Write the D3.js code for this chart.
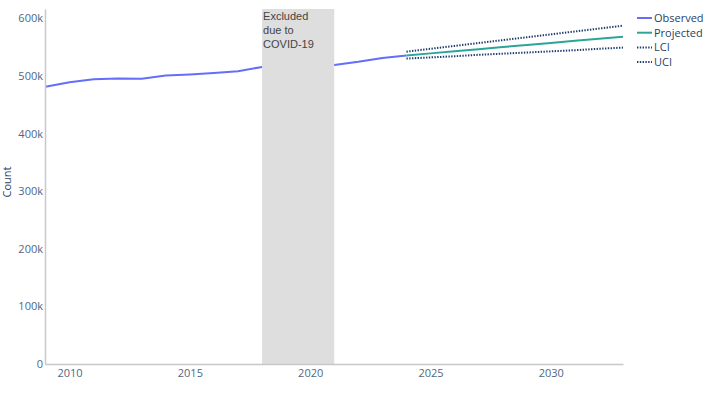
<!DOCTYPE html>
<html>
<head>
<meta charset="utf-8">
<script src="https://cdn.jsdelivr.net/npm/d3@7"></script>
<style>
  html, body { margin: 0; padding: 0; background: #fff; }
  svg { display: block; }
</style>
</head>
<body>
<svg id="chart" width="711" height="400"></svg>
<script>
// ---- Data ----
const observedYears  = [2009, 2010, 2011, 2012, 2013, 2014, 2015, 2016, 2017, 2018, 2021, 2022, 2023, 2024];
const observedValues = [481000, 489000, 494000, 495500, 495000, 500500, 502500, 505000, 508000, 515500, 519000, 524500, 531000, 535500];

const projYears  = [2024, 2025, 2026, 2027, 2028, 2029, 2030, 2031, 2032, 2033];
const projValues = [535500, 539000, 542500, 546000, 550000, 553500, 557000, 561000, 564500, 568000];
const lciValues  = [530000, 532000, 534000, 536500, 538500, 540500, 542500, 544500, 547000, 549000];
const uciValues  = [542000, 547000, 552000, 557000, 562000, 567000, 572000, 577000, 582000, 587000];

const excludedRange = [2018, 2021];
const excludedLabel = ["Excluded", "due to", "COVID-19"];

const xTicks = [2010, 2015, 2020, 2025, 2030];
const yTicks = [0, 100000, 200000, 300000, 400000, 500000, 600000];
const yTickLabels = ["0", "100k", "200k", "300k", "400k", "500k", "600k"];

const legendNames = ["Observed", "Projected", "LCI", "UCI"];

// ---- Styles ----
const C_OBS = "#636efa";
const C_PROJ = "#2ca598";
const C_CI = "#1f3d6e";
const C_TEXT = "#2a3f5f";
const C_TICK = "#506784";
const FONT = "'Open Sans', Verdana, sans-serif";

const svg = d3.select("#chart");
const m = { left: 45, right: 623, top: 9, bottom: 364 };

const x = d3.scaleLinear().domain([2008.98, 2033]).range([m.left, m.right]);
const y = d3.scaleLinear().domain([0, 616000]).range([m.bottom, m.top]);

// Lines
const line = d3.line().x(d => x(d[0])).y(d => y(d[1]));

const obs = observedYears.map((yr, i) => [yr, observedValues[i]]);
const proj = projYears.map((yr, i) => [yr, projValues[i]]);
const lci = projYears.map((yr, i) => [yr, lciValues[i]]);
const uci = projYears.map((yr, i) => [yr, uciValues[i]]);

const plot = svg.append("g");

plot.append("path").datum(obs).attr("d", line)
  .attr("fill", "none").attr("stroke", C_OBS).attr("stroke-width", 2).attr("stroke-linejoin", "round");
plot.append("path").datum(lci).attr("d", line)
  .attr("fill", "none").attr("stroke", C_CI).attr("stroke-width", 2).attr("stroke-dasharray", "1.4,1.4");
plot.append("path").datum(uci).attr("d", line)
  .attr("fill", "none").attr("stroke", C_CI).attr("stroke-width", 2).attr("stroke-dasharray", "1.4,1.4");
plot.append("path").datum(proj).attr("d", line)
  .attr("fill", "none").attr("stroke", C_PROJ).attr("stroke-width", 2);

// Excluded rect (above lines)
plot.append("rect")
  .attr("x", x(excludedRange[0]))
  .attr("y", m.top)
  .attr("width", x(excludedRange[1]) - x(excludedRange[0]))
  .attr("height", m.bottom - m.top)
  .attr("fill", "#dedede");

const ann = plot.append("text")
  .attr("x", x(excludedRange[0]) + 1)
  .attr("y", 20)
  .attr("font-family", "'Liberation Sans', Arial, sans-serif")
  .attr("font-size", 11)
  .attr("fill", "#444");
excludedLabel.forEach((t, i) => {
  ann.append("tspan").attr("x", x(excludedRange[0]) + 1).attr("dy", i === 0 ? 0 : 14).text(t);
});

// Axes
const xAxis = d3.axisBottom(x).tickValues(xTicks).tickFormat(d3.format("d")).tickSize(0).tickPadding(5);
const gx = svg.append("g").attr("transform", `translate(0,${m.bottom})`).call(xAxis);
gx.select(".domain").attr("stroke", "#c8c8c8").attr("stroke-width", 1.5);
gx.selectAll("text").attr("font-family", FONT).attr("font-size", 11).attr("fill", C_TICK);

const yAxis = d3.axisLeft(y).tickValues(yTicks).tickFormat((d, i) => yTickLabels[i]).tickSize(0).tickPadding(2);
const gy = svg.append("g").attr("transform", `translate(${m.left},0)`).call(yAxis);
gy.select(".domain").attr("stroke", "#c8c8c8").attr("stroke-width", 1.5);
gy.selectAll("text").attr("font-family", FONT).attr("font-size", 11).attr("fill", C_TICK);

// Y title
svg.append("text")
  .attr("transform", `translate(11,182) rotate(-90)`)
  .attr("text-anchor", "middle")
  .attr("font-family", FONT).attr("font-size", 11).attr("fill", C_TEXT)
  .text("Count");

// Legend
const legendColors = [C_OBS, C_PROJ, C_CI, C_CI];
const legendDash = [null, null, "1.4,1.4", "1.4,1.4"];
const lg = svg.append("g").attr("transform", "translate(637,18)");
legendNames.forEach((n, i) => {
  const row = lg.append("g").attr("transform", `translate(0,${i * 14.7})`);
  row.append("line").attr("x1", 0).attr("x2", 15).attr("y1", 0).attr("y2", 0)
    .attr("stroke", legendColors[i]).attr("stroke-width", 2)
    .attr("stroke-dasharray", legendDash[i]);
  row.append("text").attr("x", 17).attr("y", 4)
    .attr("font-family", FONT).attr("font-size", 11).attr("fill", C_TEXT)
    .text(n);
});
</script>
</body>
</html>
